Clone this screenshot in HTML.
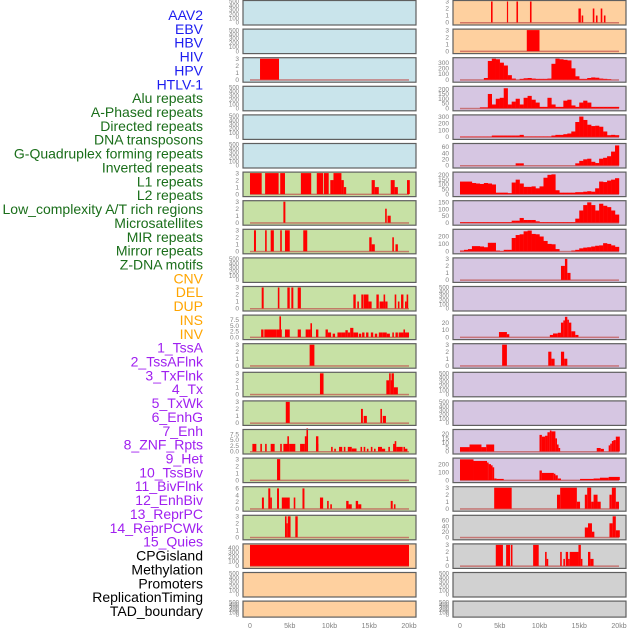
<!DOCTYPE html>
<html><head><meta charset="utf-8">
<style>
html,body{margin:0;padding:0;background:#fff;}
svg{display:block;font-family:"Liberation Sans",sans-serif;}
</style></head>
<body>
<svg id="chart" width="630" height="630" viewBox="0 0 630 630" xmlns="http://www.w3.org/2000/svg">
<g id="labels"></g>
<g id="panels"></g>
<g id="xaxis"></g>
</svg>
<script>
const trackLabels = ["AAV2","EBV","HBV","HIV","HPV","HTLV-1","Alu repeats","A-Phased repeats","Directed repeats","DNA transposons","G-Quadruplex forming repeats","Inverted repeats","L1 repeats","L2 repeats","Low_complexity A/T rich regions","Microsatellites","MIR repeats","Mirror repeats","Z-DNA motifs","CNV","DEL","DUP","INS","INV","1_TssA","2_TssAFlnk","3_TxFlnk","4_Tx","5_TxWk","6_EnhG","7_Enh","8_ZNF_Rpts","9_Het","10_TssBiv","11_BivFlnk","12_EnhBiv","13_ReprPC","14_ReprPCWk","15_Quies","CPGisland","Methylation","Promoters","ReplicationTiming","TAD_boundary"];
const labelGroups = [6,13,5,15,5];
const xTicks = [0,5,10,15,20];
const xTickLabels = ["0","5kb","10kb","15kb","20kb"];

// y-axis maxima per row
const leftMax = [500,500,3,500,500,500,3,3,3,500,3,9.1,3,3,3,9.1,3,6.2,3,470,500,500];
const rightMax = [3,3,370,220,310,68,218,155,284,3,500,29,3,500,500,24,263,3,75,3,500,500];
const leftTicks = ["e","e","3","e","e","e","3","3","3","e","3","7.5","3","3","3","7.5","3","6","3","400","e","e"];
const rightTicks = ["3","3","300","200","300","60","200","150","200","3","e","20","3","e","e","20","200","3","60","3","e","e"];

// left column segment data [startKb, endKb, value]
const L2 = [[1.26,3.65,3]];
const L6 = [[0,1.47,3],[1.9,3.6,3],[3.8,4.4,3],[6.4,7.7,3],[8.4,9.2,3],[9.3,9.9,3],[10.1,10.5,2],[10.5,11.5,3],[11.5,11.8,2],[11.8,12.1,1],[15.3,15.7,2],[15.7,16.2,1],[17.7,18.2,2],[18.2,18.6,1],[19.75,20.1,2]];
const L7 = [[4.2,4.45,3],[17.0,17.2,2],[17.3,17.7,1]];
const L8 = [[0.5,0.75,3],[1.9,2.1,3],[2.6,3.0,3],[3.8,4.0,3],[4.4,5.0,3],[6.7,7.2,3],[15.0,15.3,2],[15.3,15.7,1],[17.9,18.1,2],[18.3,18.6,1]];
const L10 = [[1.47,1.72,3],[3.5,3.7,3],[4.7,5.0,3],[5.2,5.45,3],[6.0,6.4,3],[13.0,13.3,2],[13.5,13.7,1],[14.0,14.25,2],[14.3,14.9,2],[14.9,15.3,1],[15.9,16.2,2],[16.3,16.8,1],[16.8,17.0,2],[17.0,17.3,1],[18.2,18.4,2],[18.6,18.8,1],[19.0,19.3,2],[19.5,19.7,1],[19.7,19.9,2]];
const L11 = [[1.4,1.7,3.3],[1.8,2.2,3.3],[2.2,3.3,3.3],[3.3,4.0,3.3],[3.7,3.9,9],[4.4,5.0,3.3],[6.0,6.4,3.3],[7.0,7.3,3.3],[7.3,7.6,3.3],[7.6,7.8,6],[8.3,8.6,3.3],[9.5,9.8,3.3],[9.8,10.2,2],[10.4,10.7,1.5],[11,11.5,2],[11.5,12,2],[12,12.3,3],[12.3,12.6,2],[12.6,13,4],[13,13.6,2],[13.7,14,1.5],[14.1,14.4,2],[14.6,14.9,2],[15.2,15.5,2],[15.7,16,1.5],[16.2,16.7,2],[16.7,17.2,2],[17.2,17.6,1.5],[17.9,18.1,2],[18.3,18.6,2],[18.7,19.3,2],[19.3,19.5,3.3],[19.5,20,2]];
const L12 = [[7.5,8.1,3]];
const L13 = [[8.8,9.25,3],[17.15,17.5,2],[17.5,17.7,3],[17.7,17.8,2],[17.8,18.1,3],[18.1,18.6,1]];
const L14 = [[4.5,5.0,3],[13.96,14.2,2],[14.3,14.7,1],[16.4,16.6,2],[16.7,17.1,1]];
const L15 = [[0.3,0.8,3.3],[1.3,1.5,3.3],[1.9,2.1,3.3],[2.6,3.1,3.3],[3.8,4.0,3.3],[4.2,5.0,3.3],[4.7,4.9,6.6],[5.0,5.7,3.3],[6.3,6.9,3.3],[6.9,7.1,6.6],[7.1,7.3,10],[8.3,8.6,6.6],[8.3,8.6,3.3],[10.2,10.4,2],[10.6,10.8,1.2],[11.2,11.6,2],[11.8,12.0,2],[12.3,12.8,2],[12.8,13.4,1.3],[13.9,14.1,2],[14.3,14.5,2],[14.7,14.9,1.2],[15.2,15.4,2],[15.6,15.8,1.2],[16.1,16.6,2],[16.6,17,1.2],[17.4,17.6,2],[18.0,18.3,3.3],[18.2,18.4,4.5],[18.4,19.2,2],[19.3,19.5,2],[19.5,19.8,1.2]];
const L16 = [[3.4,3.8,3]];
const L17 = [[1.5,1.75,3.3],[2.3,2.55,6],[2.55,2.75,3.3],[3.4,3.65,6],[4.0,5.0,3.3],[5.5,5.7,3.3],[6.6,6.85,6],[8.8,9.2,3.3],[9.7,9.9,2.3],[10.1,10.3,1.3],[12.1,12.4,2.3],[12.4,12.8,1.3],[13.3,13.6,2.3],[13.6,14,1.3],[17.7,17.95,2.3],[18.1,18.3,1.3]];
const L18 = [[4.4,4.6,3],[4.6,4.75,2],[4.75,5.1,3],[5.7,6.0,3]];
const L19 = [[0,20,470]];

// right column segment data
const R0 = [[3.9,4.1,3],[5.9,6.05,3],[7.1,7.3,3],[8.8,9.0,3],[14.9,15.2,2],[15.3,15.5,1],[16.7,16.9,2],[17.1,17.3,1],[17.7,17.9,2],[18.1,18.3,1]];
const R1 = [[8.4,10.0,3]];
const R9 = [[12.7,13.2,2],[13.2,13.5,3],[13.5,13.9,1]];
const R11 = [[4.9,5.9,7],[5.9,6.2,4],[11.3,11.7,3],[11.7,12.3,5],[12.3,12.7,6],[12.7,13.0,20],[13.0,13.2,23],[13.2,13.5,28],[13.5,13.7,24],[13.7,14.0,20],[14.0,14.5,8],[14.5,14.9,3]];
const R12 = [[5.3,5.9,3],[11.1,11.5,2],[11.5,11.9,1],[12.7,13.1,2],[13.1,13.5,1]];
const R15 = [[0,1.2,5],[1.2,2.7,8],[2.7,3.3,5],[3.3,4.3,8],[10,10.3,19],[10.3,10.7,17],[10.7,11.0,18],[11.0,11.3,22],[11.3,11.5,24],[11.5,12.0,23],[12.0,12.2,15],[12.2,12.4,8],[12.4,12.6,4],[17.2,17.7,4],[17.7,18.1,3],[18.7,18.9,7],[18.9,19.1,9],[19.1,19.3,12],[19.3,19.6,13],[19.6,20.1,17]];
const R16 = [[0,1.7,260],[1.7,3.4,240],[3.4,3.6,220],[3.6,3.9,200],[3.9,4.1,185],[4.1,4.3,160],[4.3,4.6,20],[4.6,5.5,15],[10,10.3,120],[10.3,11.8,90],[11.8,12.0,80],[12.0,12.3,60],[12.3,12.7,20],[15.1,16.8,15],[16.8,17.6,20],[17.6,18.7,30],[18.7,20.1,40]];
const R17 = [[4.3,6.5,3],[12.2,12.6,2],[12.6,14.7,3],[14.7,15.1,1],[15.7,16.0,2],[16.0,16.5,3],[16.5,16.8,1],[16.8,17.3,2],[17.3,17.7,1],[18.8,19.1,2],[19.1,19.6,3],[19.6,20.0,1]];
const R18 = [[15.7,16.1,35],[16.1,16.6,50],[16.6,16.9,20],[18.8,19.2,50],[19.2,19.6,75],[19.6,20.1,25]];
const R19 = [[4.5,5.4,3],[5.8,6.3,3],[6.4,6.6,3],[9.2,9.9,3],[10.7,10.9,2],[10.9,11.1,1],[12.6,12.8,2],[13.0,13.2,1],[13.3,13.6,2],[13.6,13.8,1],[13.8,14.9,2],[14.9,15.2,3],[15.2,15.4,1],[16.1,16.4,2],[16.4,16.8,1]];

// right column binned profiles (0.5kb bins)
const R2 = [0,0,0,0,0,0,30,330,370,360,300,250,80,20,0,15,25,30,20,15,15,15,20,280,370,360,350,340,200,60,15,15,30,40,35,20,15,10,0,0];
const R3 = [0,0,0,0,0,10,10,150,40,100,110,210,40,70,100,40,110,130,90,60,15,15,110,40,15,15,80,90,30,15,60,80,60,15,15,15,15,15,15,15];
const R4 = [5,5,5,5,5,5,5,5,20,20,20,20,20,20,20,30,7,7,7,7,7,7,7,20,30,30,40,50,80,220,300,250,180,160,165,150,80,25,30,25];
const R5 = [0,0,0,0,0,0,0,0,0,0,0,0,0,0,7,7,0,0,0,0,0,0,0,0,0,0,0,0,0,7,15,20,22,12,8,22,25,30,45,65];
const R6 = [130,130,130,115,110,105,115,110,100,15,15,15,10,120,150,110,75,75,80,60,80,170,200,205,40,15,15,15,15,20,20,25,30,25,60,130,125,140,150,165];
const R7 = [5,5,5,5,5,5,5,5,5,5,5,5,5,15,15,35,20,20,20,10,5,5,5,5,5,5,5,5,5,30,90,130,150,130,90,140,125,115,90,60];
const R8 = [10,20,30,70,70,65,55,115,115,10,5,20,20,180,220,230,270,280,235,230,200,140,100,95,30,0,0,0,10,20,40,50,55,65,75,80,110,100,80,60];

const leftSeg = [null,null,L2,null,null,null,L6,L7,L8,null,L10,L11,L12,L13,L14,L15,L16,L17,L18,L19,null,null];
const rightSeg = [R0,R1,null,null,null,null,null,null,null,R9,null,R11,R12,null,null,R15,R16,R17,R18,R19,null,null];
const rightBins = {2:R2,3:R3,4:R4,5:R5,6:R6,7:R7,8:R8};

const leftBg = ["#c9e4eb","#c9e4eb","#c9e4eb","#c9e4eb","#c9e4eb","#c9e4eb","#c7e1a5","#c7e1a5","#c7e1a5","#c7e1a5","#c7e1a5","#c7e1a5","#c7e1a5","#c7e1a5","#c7e1a5","#c7e1a5","#c7e1a5","#c7e1a5","#c7e1a5","#fed09f","#fed09f","#fed09f"];
const rightBg = ["#fed09f","#fed09f","#d6c6e2","#d6c6e2","#d6c6e2","#d6c6e2","#d6c6e2","#d6c6e2","#d6c6e2","#d6c6e2","#d6c6e2","#d6c6e2","#d6c6e2","#d6c6e2","#d6c6e2","#d6c6e2","#d6c6e2","#d1d1d1","#d1d1d1","#d1d1d1","#d1d1d1","#d1d1d1"];

const NS = "http://www.w3.org/2000/svg";
function mk(tag, attrs, parent){ const e=document.createElementNS(NS,tag); for(const k in attrs) e.setAttribute(k,attrs[k]); parent.appendChild(e); return e; }

// labels
const labG = document.getElementById('labels');
const groupColors = ["#1c1cf0","#1a6e1a","#ffa500","#a020f0","#000000"];
let idx=0;
labelGroups.forEach((n,g)=>{ for(let j=0;j<n;j++){
  const t = mk('text',{x:203,y:15+13.86*idx+5,'text-anchor':'end','font-size':'14',fill:groupColors[g]},labG);
  t.textContent = trackLabels[idx];
  
  
  idx++; }});

function tickValues(spec){
  if(spec==="e") return [[0,"0"],[100,"100"],[200,"200"],[300,"300"],[400,"400"],[500,"500"]];
  const map = {"3":[0,1,2,3],"7.5":[0,2.5,5,7.5],"6":[0,2,4,6],"400":[0,100,200,300,400],"300":[0,100,200,300],"200":[0,100,200],"150":[0,50,100,150],"60":[0,20,40,60],"20":[0,10,20]};
  if(spec==="20" ) return [[0,"0"],[20,"20"]];
  return map[spec].map(v=>[v, spec==="7.5"? v.toFixed(1): String(v)]);
}
const rightTickOverride = {3:[0,50,100,150,200],6:[0,50,100,150,200],11:[0,10,20],15:[0,5,10,15,20]};

const panG = document.getElementById('panels');
function drawPanel(row, col){
  const x0 = col===0?243:453, w=173;
  const top = 0.5+28.6*row, h = row===21?16:24.5;
  const max = col===0?leftMax[row]:rightMax[row];
  const bg = col===0?leftBg[row]:rightBg[row];
  const g = mk('g',{},panG);
  
  
  mk('rect',{x:x0,y:top,width:w,height:h,fill:bg,stroke:'none'},g);
  const xs = kb => x0+7+kb*7.95;
  const y0 = top+h-2.5, y1 = top+1;
  const ys = v => y0-(v/max)*(y0-y1);
  const seg = col===0?leftSeg[row]:rightSeg[row];
  const bins = col===1?rightBins[row]:null;
  if(seg||bins){
    const bl = mk('rect',{x:xs(0),y:y0-0.5,width:xs(20)-xs(0),height:1.5,fill:'#c0504d',opacity:0.7},g);
    
    
  }
  if(seg) seg.forEach(s=>{
    const r = mk('rect',{x:xs(s[0]),y:ys(s[2]),width:Math.max(1,xs(s[1])-xs(s[0])),height:y0-ys(s[2]),fill:'#ff0000'},g);
    
    
  });
  if(bins) bins.forEach((v,k)=>{
    if(v<=0) return;
    const r = mk('rect',{x:xs(k*0.5),y:ys(v),width:xs((k+1)*0.5)-xs(k*0.5)+0.2,height:y0-ys(v),fill:'#ff0000'},g);
    
    
  });
  mk('rect',{x:x0,y:top,width:w,height:h,fill:'none',stroke:'#5f5f5f','stroke-width':1.2},g);
  // ticks
  const spec = col===0?leftTicks[row]:rightTicks[row];
  let tv = tickValues(spec);
  if(col===1 && rightTickOverride[row]) tv = rightTickOverride[row].map(v=>[v,String(v)]);
  const tx = col===0?239:449;
  tv.forEach(([v,lab])=>{
    if(v>max+0.01) return;
    const t = mk('text',{x:tx,y:ys(v)+2.2,'text-anchor':'end','font-size':spec==="e"?'6':'6.5',fill:'#808080'},g);
    t.textContent = lab;
    
    
  });
}
for(let r=0;r<22;r++){ drawPanel(r,0); drawPanel(r,1); }

const xg = document.getElementById('xaxis');
[243,453].forEach(x0=>{
  xTicks.forEach((v,i)=>{
    const t = mk('text',{x:x0+7+v*7.95,y:628,'text-anchor':'middle','font-size':'7',fill:'#808080'},xg);
    t.textContent = xTickLabels[i];
    
    
  });
});
</script>
</body></html>
